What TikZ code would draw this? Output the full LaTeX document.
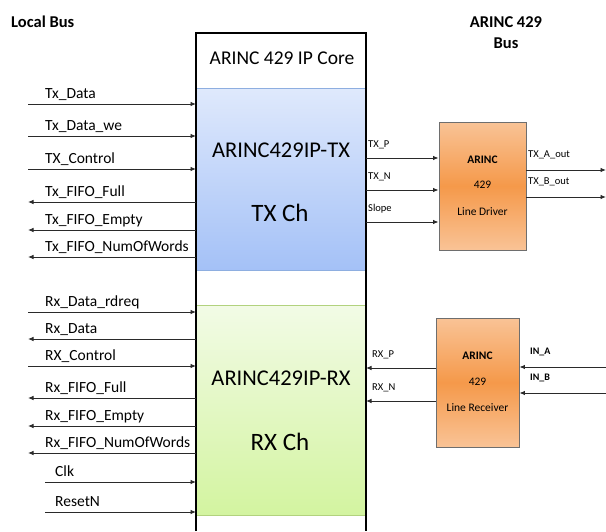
\documentclass[tikz,border=0pt]{standalone}
\usepackage{fontspec}
\setmainfont{Carlito}
\usetikzlibrary{arrows.meta}
\definecolor{txtop}{HTML}{DFE9FC}
\definecolor{txbot}{HTML}{A4C1F7}
\definecolor{txedge}{HTML}{8EAEE0}
\definecolor{rxtop}{HTML}{F2FBE6}
\definecolor{rxbot}{HTML}{D3F4A0}
\definecolor{rxedge}{HTML}{B2D27E}
\definecolor{ortop}{HTML}{F9C396}
\definecolor{ormid}{HTML}{F5994A}
\definecolor{oredge}{HTML}{6E6E6E}
\definecolor{sig}{HTML}{2A2A2A}
\tikzset{
  sigline/.style={draw=sig, line width=0.9pt},
  tip/.style={-{Latex[length=5.5pt,width=4.5pt]}},
  lbl/.style={font=\fontsize{15.5}{17}\selectfont, anchor=base west, inner sep=0pt},
  smalllbl/.style={font=\fontsize{10.5}{12}\selectfont, anchor=base west, inner sep=0pt},
  inlbl/.style={font=\fontsize{10}{12}\selectfont\bfseries, anchor=base west, inner sep=0pt},
  boxtxt/.style={font=\fontsize{11.5}{13}\selectfont, inner sep=0pt},
  bigtxt/.style={font=\fontsize{22.5}{25}\selectfont, inner sep=0pt},
  chtxt/.style={font=\fontsize{25}{28}\selectfont, inner sep=0pt},
  titletxt/.style={font=\fontsize{16.5}{19}\selectfont\bfseries, inner sep=0pt},
  chbox/.style={draw, line width=0.8pt, inner sep=0pt},
  orbox/.style={draw=oredge, line width=0.9pt, inner sep=0pt, top color=ortop, bottom color=ortop, middle color=ormid},
}
\begin{document}
\begin{tikzpicture}[x=1pt,y=-1pt]
\useasboundingbox (0,0) rectangle (606,531);
% outer IP core frame
\coordinate (oBL) at (196,531);
\coordinate (oTL) at (196,33);
\coordinate (oTR) at (366,33);
\coordinate (oBR) at (366,531);
% channel boxes
\node[chbox, draw=txedge, top color=txtop, bottom color=txbot, minimum width=169pt, minimum height=182pt] (tx) at (280.5,179) {};
\node[chbox, draw=rxedge, top color=rxtop, bottom color=rxbot, minimum width=169pt, minimum height=210pt] (rx) at (280.5,410) {};
\draw[line width=1.8pt, black] (oBL) -- (oTL) -- (oTR) -- (oBR);
\node[font=\fontsize{19.5}{22}\selectfont, inner sep=0pt] (core) at (282,58) {ARINC 429 IP Core};
\node[bigtxt] (txname) at (281,150) {ARINC429IP-TX};
\node[chtxt] (txch) at (280,213) {TX Ch};
\node[bigtxt] (rxname) at (281,378) {ARINC429IP-RX};
\node[chtxt] (rxch) at (280,442) {RX Ch};
% titles
\node[titletxt, anchor=west] (localbus) at (11,22) {Local Bus};
\node[titletxt] (arincbus) at (506,22) {ARINC 429};
\node[titletxt] (bus) at (506,43) {Bus};
% left inputs (to core)
\foreach \n/\y/\t/\x/\lx in {a/104/Tx\_Data/28/45, b/136/Tx\_Data\_we/28/45, c/169/TX\_Control/28/45,
                        g/312/Rx\_Data\_rdreq/28/45, i/366/RX\_Control/28/45,
                        m/482/Clk/45/55, n/512/ResetN/45/55}{
  \coordinate (L\n) at (\x,\y);
  \node[lbl] (t\n) at (\lx,\y-5.5) {\t};
  \draw[sigline, tip] (L\n) -- (L\n -| oTL);
}
% left outputs (from core)
\foreach \n/\y/\t in {d/202/Tx\_FIFO\_Full, e/230/Tx\_FIFO\_Empty, f/257/Tx\_FIFO\_NumOfWords,
                      h/339/Rx\_Data, j/398/Rx\_FIFO\_Full, k/426/Rx\_FIFO\_Empty, l/453/Rx\_FIFO\_NumOfWords}{
  \coordinate (L\n) at (28,\y);
  \node[lbl] (t\n) at (45,\y-5.5) {\t};
  \draw[sigline, tip] (L\n -| oTL) -- (L\n);
}
% line driver
\node[orbox, minimum width=87pt, minimum height=128pt] (drv) at (482.5,186) {};
\node[boxtxt, font=\fontsize{11.5}{13}\selectfont\bfseries] (drv1) at (482.5,160) {ARINC};
\node[boxtxt] (drv2) at (482.5,185) {429};
\node[boxtxt] (drv3) at (482.5,212) {Line Driver};
\foreach \n/\y/\t in {p/158/TX\_P, q/190/TX\_N, r/222/Slope}{
  \coordinate (R\n) at (366,\y);
  \node[smalllbl] (s\n) at (368,\y-11) {\t};
  \draw[sigline, tip] (R\n) -- (R\n -| drv.west);
}
\foreach \n/\y/\t in {u/170/TX\_A\_out, v/197/TX\_B\_out}{
  \coordinate (O\n) at (606,\y);
  \node[smalllbl] (s\n) at (528,\y-13) {\t};
  \draw[sigline, tip] (O\n -| drv.east) -- (O\n);
}
% line receiver
\node[orbox, minimum width=83pt, minimum height=129pt] (rcv) at (477.5,382.5) {};
\node[boxtxt, font=\fontsize{11.5}{13}\selectfont\bfseries] (rcv1) at (477.5,356) {ARINC};
\node[boxtxt] (rcv2) at (477.5,382) {429};
\node[boxtxt] (rcv3) at (477.5,408) {Line Receiver};
\foreach \n/\y/\t in {w/368/RX\_P, z/401/RX\_N}{
  \coordinate (R\n) at (366,\y);
  \node[smalllbl] (s\n) at (372,\y-11) {\t};
  \draw[sigline, tip] (R\n -| rcv.west) -- (R\n);
}
\foreach \n/\y/\t in {ia/367/IN\_A, ib/393/IN\_B}{
  \coordinate (I\n) at (606,\y);
  \node[inlbl] (s\n) at (530,\y-13) {\t};
  \draw[sigline, tip] (I\n) -- (I\n -| rcv.east);
}
\end{tikzpicture}
\end{document}
